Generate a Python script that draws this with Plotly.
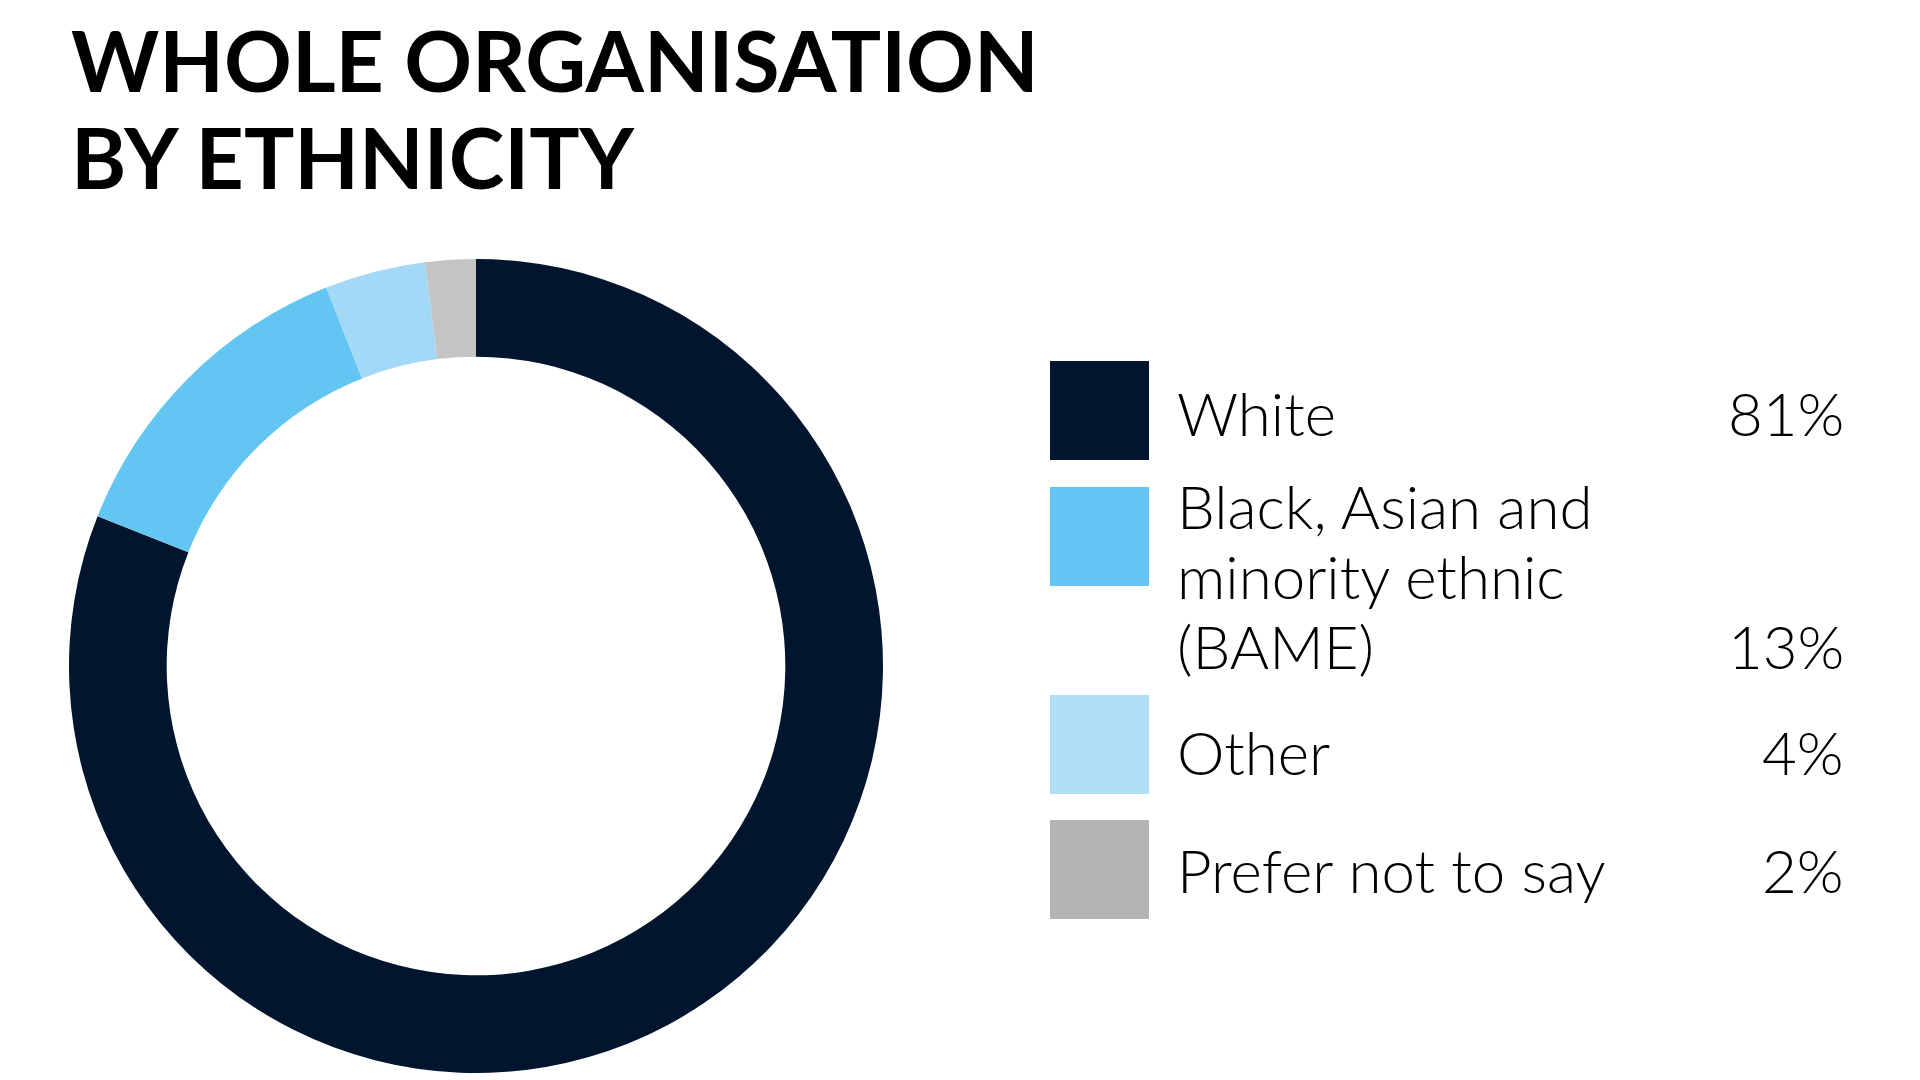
import plotly.graph_objects as go

# %% Dados
labels = ["White", "Black, Asian and<br>minority ethnic<br>(BAME)", "Other", "Prefer not to say"]
values = [81, 13, 4, 2]
pct_text = ["81%", "13%", "4%", "2%"]
pie_colors = ["#01152E", "#63C6F2", "#A3D9F6", "#C4C4C4"]
key_colors = ["#01152E", "#63C6F2", "#B2DFF8", "#B3B3B3"]
title_lines = ["WHOLE ORGANISATION", "BY ETHNICITY"]

W, H = 1920, 1080
FONT = "Lato"

# %% Figura
fig = go.Figure(go.Pie(
    labels=[l.replace("<br>", " ") for l in labels], values=values, sort=False,
    direction="clockwise", rotation=0, hole=0.76, textinfo="none",
    hoverinfo="label+percent",
    marker=dict(colors=pie_colors, line=dict(width=0)),
    domain=dict(x=[61 / W, 875 / W], y=[1 - 1065 / H, 1 - 251 / H]),
    showlegend=False,
))

# posições da legenda (px)
key_tops = [353, 479, 687, 812]
key_size = 99
label_base = [439, 532, 778, 896]   # linha de base da primeira linha do rótulo
line_step = 70
pct_base = [439, 672, 778, 896]

shapes = []
annotations = []
for i in range(len(labels)):
    shapes.append(dict(
        type="rect", xref="paper", yref="paper",
        x0=1042 / W, x1=(1042 + key_size) / W,
        y0=1 - (key_tops[i] + key_size) / H, y1=1 - key_tops[i] / H,
        fillcolor=key_colors[i], line=dict(width=0),
    ))
    # cada linha do rótulo separada para controlar o espaçamento
    for j, linha in enumerate(labels[i].split("<br>")):
        annotations.append(dict(
            text=linha, xref="paper", yref="paper",
            x=1167 / W, y=1 - (label_base[i] + j * line_step - 72) / H,
            xanchor="left", yanchor="top", align="left", showarrow=False,
            font=dict(family=FONT, size=60, color="#000000", weight=300),
        ))
    annotations.append(dict(
        text=pct_text[i], xref="paper", yref="paper",
        x=1838 / W, y=1 - (pct_base[i] - 72) / H,
        xanchor="right", yanchor="top", align="right", showarrow=False,
        font=dict(family=FONT, size=60, color="#000000", weight=300),
    ))

# título em duas linhas
title_tops = [0, 97]
for k, linha in enumerate(title_lines):
    annotations.append(dict(
        text=f"<b>{linha}</b>", xref="paper", yref="paper",
        x=62 / W, y=1 - title_tops[k] / H, xanchor="left", yanchor="top",
        align="left", showarrow=False, borderpad=0,
        font=dict(family=FONT, size=84, color="#000000"),
    ))

fig.update_layout(
    width=W, height=H, margin=dict(l=0, r=0, t=0, b=0),
    paper_bgcolor="white", plot_bgcolor="white",
    shapes=shapes, annotations=annotations,
)

fig.write_html("out.html")
